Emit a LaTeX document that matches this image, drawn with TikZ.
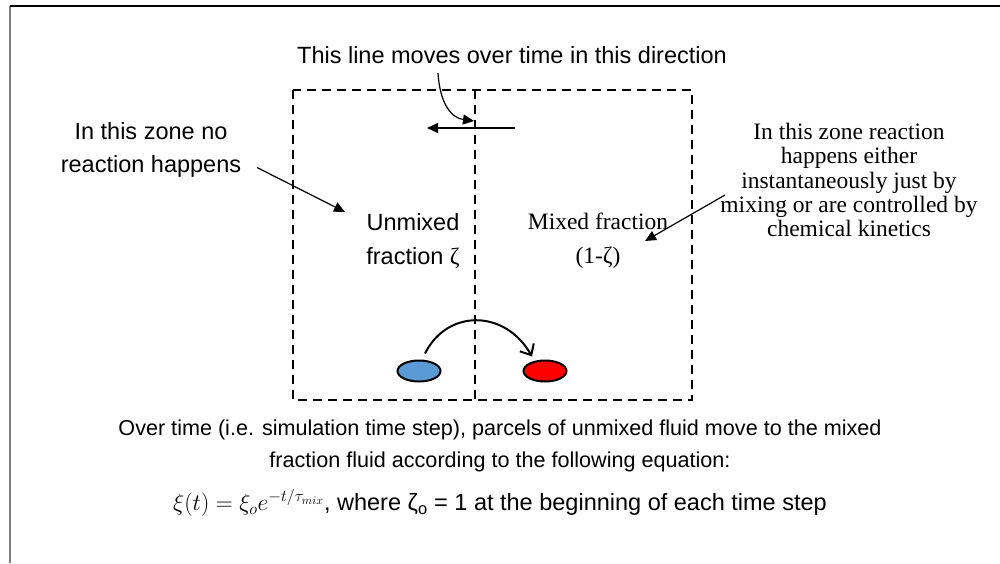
\RequirePackage{fix-cm}
\documentclass[tikz,border=0pt]{standalone}
\usepackage{fontspec}
\setmainfont{Liberation Serif}
\setsansfont{Liberation Sans}
\usetikzlibrary{arrows.meta,shapes.geometric}
\definecolor{parcelblue}{HTML}{5B9BD5}
\definecolor{framegray}{HTML}{808080}
\tikzset{
  sanstext/.style={inner sep=0pt, align=center, font=\sffamily\fontsize{23.5}{33}\selectfont},
  seriftext/.style={inner sep=0pt, align=center, font=\rmfamily\fontsize{23.5}{34}\selectfont},
  dashbox/.style={line width=2pt, dash pattern=on 9pt off 6pt},
  pointer/.style={line width=1.2pt, -{Triangle[length=11pt,width=10pt]}},
  parcel/.style={ellipse, draw=black, line width=2pt, minimum width=43pt, minimum height=21pt, inner sep=0pt},
  moveto/.style={line width=2pt, -{Straight Barb[length=9pt,width=16pt,line width=2pt]}}
}
\begin{document}
\begin{tikzpicture}[x=1pt,y=-1pt]
\useasboundingbox (0,0) rectangle (1000,563);
% page frame
\draw[framegray, line width=2pt] (10,6) -- (10,563);
\draw[black, line width=1.3pt] (10,6) -- (1000,6);
% zone boxes
\draw[dashbox] (293,90) rectangle (692,400);
\draw[dashbox] (475,90) -- (475,400);
% texts
\node[sanstext] (dir) at (512,55) {This line moves over time in this direction};
\node[sanstext] (nozone) at (151,149.5) {In this zone no\\reaction happens};
\node[sanstext, font=\sffamily\fontsize{23.5}{34}\selectfont] (unmixed) at (413,241) {Unmixed\\fraction {\rmfamily ζ}};
\node[seriftext] (mixed) at (598,241) {Mixed fraction\\(1-ζ)};
\node[seriftext, font=\rmfamily\fontsize{23.5}{24.4}\selectfont] (reactzone) at (849,180) {In this zone reaction\\happens either\\instantaneously just by\\mixing or are controlled by\\chemical kinetics};
\node[sanstext, font=\sffamily\fontsize{21.6}{32}\selectfont] (expl) at (500,446) {Over time (i.e. simulation time step), parcels of unmixed fluid move to the mixed\\fraction fluid according to the following equation:};
\node[sanstext] (eq) at (500,503) {$\xi(t)=\xi_o e^{-t/\tau_{mix}}$, where ζ\textsubscript{o} = 1 at the beginning of each time step};
% moving line arrow
\coordinate (mvstart) at (515,128);
\coordinate (mvend) at (427,128);
\draw[pointer] (mvstart) -- (mvend);
\coordinate (dirfoot) at (438,73);
\coordinate (linetop) at (474,121);
\draw[pointer] (dirfoot) .. controls (440,105) and (452,118) .. (linetop);
% zone pointers
\coordinate (nozonetip) at (345,212);
\draw[pointer] ([shift={(106,18)}]nozone.center) -- (nozonetip);
\coordinate (reacttip) at (645,241);
\draw[pointer] (725,195) -- (reacttip);
% parcels
\node[parcel, fill=parcelblue] (blue) at (419,371) {};
\node[parcel, fill=red] (redp) at (545,371) {};
\draw[moveto] ([shift={(6,-6)}]blue.north) .. controls (447,309) and (505,309) .. ([shift={(-13,-3)}]redp.north);
\end{tikzpicture}
\end{document}
